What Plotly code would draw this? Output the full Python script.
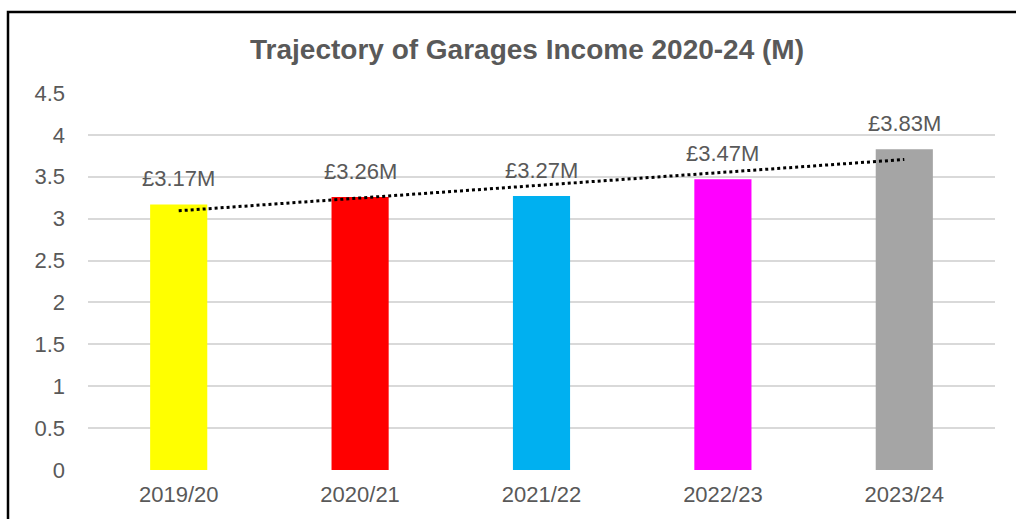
import numpy as np
import plotly.graph_objects as go

categories = ["2019/20", "2020/21", "2021/22", "2022/23", "2023/24"]
values = [3.17, 3.26, 3.27, 3.47, 3.83]
labels = ["£3.17M", "£3.26M", "£3.27M", "£3.47M", "£3.83M"]
colors = ["#FFFF00", "#FF0000", "#00B0F0", "#FF00FF", "#A5A5A5"]
title_text = "Trajectory of Garages Income 2020-24 (M)"

idx = np.arange(len(values))
slope, intercept = np.polyfit(idx, values, 1)
trend = slope * idx + intercept

W, H = 1016, 519
L, R, T, B = 88, 21, 93, 44
pw, ph = W - L - R, H - T - B
FONT = "Liberation Sans, Arial"

fig = go.Figure()
fig.add_trace(go.Bar(x=categories, y=values, marker=dict(color=colors, line=dict(width=0)),
                     width=0.315, showlegend=False, hoverinfo="skip"))
fig.add_trace(go.Scatter(x=categories, y=trend, mode="lines",
                         line=dict(color="black", width=3, dash="dot"),
                         showlegend=False, hoverinfo="skip"))

for c, v, t in zip(categories, values, labels):
    fig.add_annotation(x=c, y=v, text=t, showarrow=False, yanchor="bottom", yshift=11,
                       font=dict(family=FONT, size=22, color="#595959"))

fig.add_shape(type="rect", xref="paper", yref="paper",
              x0=(8 - L) / pw, x1=1.2, y0=-0.3, y1=1 + (T - 11) / ph,
              line=dict(color="black", width=2.5), fillcolor="rgba(0,0,0,0)", layer="above")

fig.update_layout(
    width=W, height=H,
    margin=dict(l=L, r=R, t=T, b=B, pad=0),
    paper_bgcolor="white", plot_bgcolor="white",
    title=dict(text="<b>" + title_text + "</b>", x=527 / W, xanchor="center",
               y=1 - 49 / H, yanchor="middle",
               font=dict(family=FONT, size=28, color="#595959")),
    xaxis=dict(showgrid=False, zeroline=False, showline=False, ticks="",
               tickfont=dict(family=FONT, size=22, color="#595959"),
               ticklabelstandoff=9),
    yaxis=dict(range=[0, 4.5], showgrid=True, gridcolor="#d9d9d9", gridwidth=1.5,
               zeroline=False, showline=False, ticks="",
               tickvals=[0, 0.5, 1, 1.5, 2, 2.5, 3, 3.5, 4, 4.5],
               ticktext=["0", "0.5", "1", "1.5", "2", "2.5", "3", "3.5", "4", "4.5"],
               tickfont=dict(family=FONT, size=22, color="#595959"),
               ticklabelstandoff=22),
)

fig.write_html("out.html")
